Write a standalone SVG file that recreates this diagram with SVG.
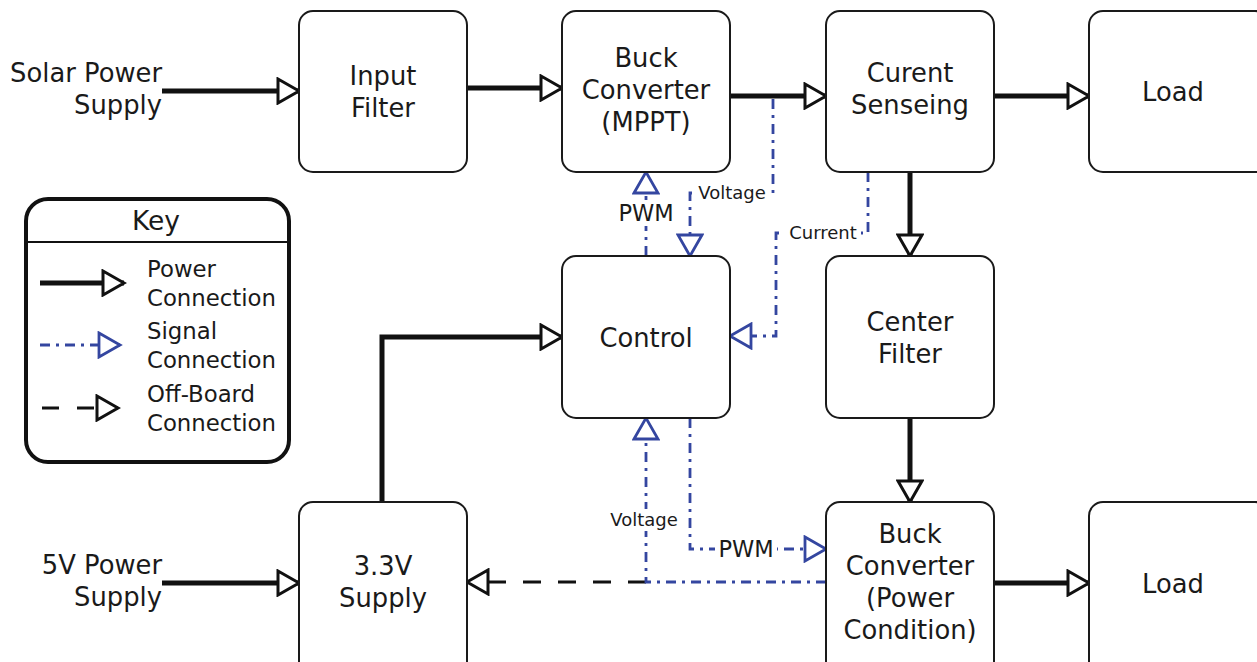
<svg xmlns="http://www.w3.org/2000/svg" width="1257" height="662" viewBox="0 0 1257 662">
<style>
.box{fill:#fff;stroke:#1a1a1a;stroke-width:2}
.t{font-family:"DejaVu Sans",Verdana,sans-serif;font-size:25.8px;fill:#1a1a1a;text-anchor:middle}
.tr{font-family:"DejaVu Sans",Verdana,sans-serif;font-size:25.8px;fill:#1a1a1a;text-anchor:end}
.k{font-family:"DejaVu Sans",Verdana,sans-serif;font-size:22.8px;fill:#1a1a1a}
.s{font-family:"DejaVu Sans",Verdana,sans-serif;font-size:18px;fill:#1a1a1a;text-anchor:middle}
.m{font-family:"DejaVu Sans",Verdana,sans-serif;font-size:22.5px;fill:#1a1a1a;text-anchor:middle}
.pw{fill:none;stroke:#111;stroke-width:5;marker-end:url(#pa)}
.sg{fill:none;stroke:#3446a0;stroke-width:2.8;stroke-dasharray:10 6 3 6}
.sga{marker-end:url(#sa)}
.ob{fill:none;stroke:#111;stroke-width:3;stroke-dasharray:18 17;marker-end:url(#oa)}
</style>
<defs>
<marker id="pa" markerUnits="userSpaceOnUse" markerWidth="26" markerHeight="28" refX="21" refY="12" orient="auto" viewBox="-2 -2 26 28">
<path d="M0,0 L21,12 L0,24 Z" fill="#fff" stroke="#111" stroke-width="3"/>
</marker>
<marker id="sa" markerUnits="userSpaceOnUse" markerWidth="26" markerHeight="28" refX="21" refY="12" orient="auto" viewBox="-2 -2 26 28">
<path d="M0,0 L21,12 L0,24 Z" fill="#fff" stroke="#3446a0" stroke-width="2.8"/>
</marker>
<marker id="oa" markerUnits="userSpaceOnUse" markerWidth="26" markerHeight="28" refX="21" refY="12" orient="auto" viewBox="-2 -2 26 28">
<path d="M0,0 L21,12 L0,24 Z" fill="#fff" stroke="#111" stroke-width="3"/>
</marker>
</defs>
<rect width="1257" height="662" fill="#fff"/>

<g id="connectors">
<path class="pw" d="M162,91 H299"/>
<path class="pw" d="M467,88 H562"/>
<path class="pw" d="M730,96 H826"/>
<path class="pw" d="M994,96 H1089"/>
<path class="pw" d="M910,172 V256"/>
<path class="pw" d="M910,418 V502"/>
<path class="pw" d="M994,583 H1089"/>
<path class="pw" d="M162,583 H299"/>
<path class="pw" d="M382,502 V337 H562"/>
<path class="ob" d="M646,582 H467"/>
<path class="sg sga" d="M646,256 V172"/>
<path class="sg sga" d="M773,99 V193 H690 V256"/>
<path class="sg sga" d="M868,172 V233 H776 V336 H730"/>
<path class="sg sga" d="M826,582 H646 V418"/>
<path class="sg sga" d="M690,418 V549 H826"/>
<rect x="615" y="200" width="62" height="26" fill="#fff"/>
<text class="m" x="646" y="221">PWM</text>
<rect x="696" y="182" width="72" height="22" fill="#fff"/>
<text class="s" x="732" y="199">Voltage</text>
<rect x="785" y="222" width="76" height="22" fill="#fff"/>
<text class="s" x="823" y="239">Current</text>
<rect x="607" y="509" width="74" height="22" fill="#fff"/>
<text class="s" x="644" y="526">Voltage</text>
<rect x="715" y="536" width="62" height="26" fill="#fff"/>
<text class="m" x="746" y="557">PWM</text>
</g>

<g id="solar-label">
<text class="tr" x="162" y="82">Solar Power</text>
<text class="tr" x="162" y="114">Supply</text>
</g>
<g id="5v-label">
<text class="tr" x="162" y="574">5V Power</text>
<text class="tr" x="162" y="606">Supply</text>
</g>

<g id="input-filter">
<rect class="box" x="299" y="11" width="168" height="161" rx="14"/>
<text class="t" x="383" y="85">Input</text>
<text class="t" x="383" y="117">Filter</text>
</g>
<g id="buck-mppt">
<rect class="box" x="562" y="11" width="168" height="161" rx="14"/>
<text class="t" x="646" y="67">Buck</text>
<text class="t" x="646" y="99">Converter</text>
<text class="t" x="646" y="131">(MPPT)</text>
</g>
<g id="current-sensing">
<rect class="box" x="826" y="11" width="168" height="161" rx="14"/>
<text class="t" x="910" y="82">Curent</text>
<text class="t" x="910" y="114">Senseing</text>
</g>
<g id="load-top">
<rect class="box" x="1089" y="11" width="180" height="161" rx="14"/>
<text class="t" x="1173" y="101">Load</text>
</g>
<g id="control">
<rect class="box" x="562" y="256" width="168" height="162" rx="14"/>
<text class="t" x="646" y="347">Control</text>
</g>
<g id="center-filter">
<rect class="box" x="826" y="256" width="168" height="162" rx="14"/>
<text class="t" x="910" y="331">Center</text>
<text class="t" x="910" y="363">Filter</text>
</g>
<g id="supply-33">
<rect class="box" x="299" y="502" width="168" height="175" rx="14"/>
<text class="t" x="383" y="575">3.3V</text>
<text class="t" x="383" y="607">Supply</text>
</g>
<g id="buck-power">
<rect class="box" x="826" y="502" width="168" height="175" rx="14"/>
<text class="t" x="910" y="543">Buck</text>
<text class="t" x="910" y="575">Converter</text>
<text class="t" x="910" y="607">(Power</text>
<text class="t" x="910" y="639">Condition)</text>
</g>
<g id="load-bottom">
<rect class="box" x="1089" y="502" width="180" height="175" rx="14"/>
<text class="t" x="1173" y="593">Load</text>
</g>

<g id="key">
<rect x="26" y="199" width="263" height="263" rx="22" fill="#fff" stroke="#111" stroke-width="4"/>
<line x1="27" y1="242" x2="288" y2="242" stroke="#111" stroke-width="2"/>
<text class="t" x="156" y="230" style="font-size:26.5px">Key</text>
<path d="M40,283 H124" fill="none" stroke="#111" stroke-width="5" marker-end="url(#pa)"/>
<path d="M40,345 H120" fill="none" stroke="#3446a0" stroke-width="2.8" stroke-dasharray="10 6 3 6" marker-end="url(#sa)"/>
<path d="M42,408 H118" fill="none" stroke="#111" stroke-width="3" stroke-dasharray="17 18" marker-end="url(#oa)"/>
<text class="k" x="147" y="277">Power</text>
<text class="k" x="147" y="306">Connection</text>
<text class="k" x="147" y="339">Signal</text>
<text class="k" x="147" y="368">Connection</text>
<text class="k" x="147" y="402">Off-Board</text>
<text class="k" x="147" y="431">Connection</text>
</g>
</svg>
